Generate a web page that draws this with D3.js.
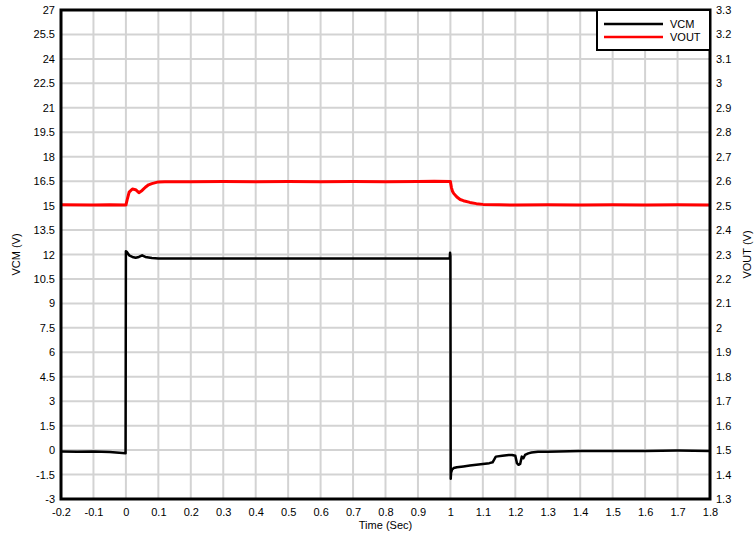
<!DOCTYPE html>
<html>
<head>
<meta charset="utf-8">
<script src="https://cdn.jsdelivr.net/npm/d3@7"></script>
<style>
html,body{margin:0;padding:0;background:#fff;}
svg{display:block;}
text{font-family:"Liberation Sans",Arial,sans-serif;fill:#000;}
</style>
</head>
<body>
<svg id="chart" width="754" height="537"></svg>
<script>
// ---- data ----
const xTicks = [-0.2,-0.1,0,0.1,0.2,0.3,0.4,0.5,0.6,0.7,0.8,0.9,1,1.1,1.2,1.3,1.4,1.5,1.6,1.7,1.8];
const leftTicks = [-3,-1.5,0,1.5,3,4.5,6,7.5,9,10.5,12,13.5,15,16.5,18,19.5,21,22.5,24,25.5,27];
const rightTicks = [1.3,1.4,1.5,1.6,1.7,1.8,1.9,2,2.1,2.2,2.3,2.4,2.5,2.6,2.7,2.8,2.9,3,3.1,3.2,3.3];

const vcmTime = [-0.2,-0.15,-0.1,-0.05,-0.001,0,0.003,0.01,0.02,0.03,0.04,0.05,0.06,0.08,0.1,0.3,0.5,0.7,0.9,0.998,0.999,1.0,1.001,1.002,1.005,1.01,1.02,1.04,1.06,1.08,1.1,1.12,1.13,1.14,1.16,1.18,1.19,1.2,1.205,1.21,1.215,1.22,1.225,1.23,1.24,1.25,1.27,1.3,1.4,1.5,1.6,1.7,1.8];
const vcmValues = [-0.08,-0.1,-0.09,-0.12,-0.2,12.2,12.15,11.95,11.85,11.8,11.85,11.95,11.85,11.78,11.75,11.75,11.75,11.75,11.75,11.75,12.1,11.9,-1.75,-1.4,-1.2,-1.1,-1.05,-1.0,-0.95,-0.9,-0.85,-0.8,-0.75,-0.4,-0.35,-0.3,-0.3,-0.35,-0.8,-0.9,-0.85,-0.4,-0.5,-0.3,-0.2,-0.15,-0.1,-0.1,-0.05,-0.05,-0.05,-0.03,-0.05];

const voutTime = [-0.2,-0.1,-0.05,0,0.005,0.01,0.02,0.03,0.04,0.05,0.06,0.07,0.08,0.1,0.12,0.2,0.3,0.4,0.5,0.6,0.7,0.8,0.9,0.95,1.0,1.003,1.006,1.01,1.02,1.03,1.04,1.06,1.08,1.1,1.15,1.2,1.3,1.4,1.5,1.6,1.7,1.8];
const voutValues = [2.503,2.502,2.503,2.502,2.53,2.555,2.568,2.565,2.553,2.562,2.575,2.585,2.59,2.597,2.598,2.598,2.599,2.598,2.599,2.598,2.599,2.598,2.599,2.6,2.599,2.575,2.56,2.55,2.535,2.525,2.52,2.513,2.508,2.505,2.503,2.502,2.503,2.502,2.503,2.502,2.503,2.502];

const seriesNames = ["VCM","VOUT"];
const seriesColors = ["#000000","#ff0000"];

// ---- layout ----
const svg = d3.select("#chart");
const L = 61, R = 710, T = 10, B = 499;

const x = d3.scaleLinear().domain([-0.2,1.8]).range([L,R]);
const yL = d3.scaleLinear().domain([-3,27]).range([B,T]);
const yR = d3.scaleLinear().domain([1.3,3.3]).range([B,T]);

// grid
const grid = svg.append("g");
grid.selectAll(".gx").data(xTicks.slice(1,-1)).enter().append("line")
  .attr("x1",d=>x(d)).attr("x2",d=>x(d)).attr("y1",T).attr("y2",B)
  .attr("stroke","#d3d3d3").attr("stroke-width",2);
grid.selectAll(".gy").data(leftTicks.slice(1,-1)).enter().append("line")
  .attr("y1",d=>yL(d)).attr("y2",d=>yL(d)).attr("x1",L).attr("x2",R)
  .attr("stroke","#d3d3d3").attr("stroke-width",2);

// axes (labels only)
const fmt = d=>String(d);
const ax = svg.append("g").attr("transform",`translate(0,${B})`)
  .call(d3.axisBottom(x).tickValues(xTicks).tickFormat(fmt).tickSize(0).tickPadding(9));
const axL = svg.append("g").attr("transform",`translate(${L},0)`)
  .call(d3.axisLeft(yL).tickValues(leftTicks).tickFormat(fmt).tickSize(0).tickPadding(6));
const axR = svg.append("g").attr("transform",`translate(${R},0)`)
  .call(d3.axisRight(yR).tickValues(rightTicks).tickFormat(fmt).tickSize(0).tickPadding(6));
[ax,axL,axR].forEach(g=>{
  g.select(".domain").remove();
  g.selectAll("text").style("font-size","11px").style("font-family","'Liberation Sans',Arial,sans-serif").attr("fill","#000");
});

// lines
const clip = svg.append("clipPath").attr("id","clip").append("rect")
  .attr("x",L).attr("y",T).attr("width",R-L).attr("height",B-T);
const lineL = d3.line().x(d=>x(d[0])).y(d=>yL(d[1]));
const lineR = d3.line().x(d=>x(d[0])).y(d=>yR(d[1]));
const plot = svg.append("g").attr("clip-path","url(#clip)");
plot.append("path").datum(voutTime.map((t,i)=>[t,voutValues[i]]))
  .attr("d",lineR).attr("fill","none").attr("stroke",seriesColors[1]).attr("stroke-width",3).attr("stroke-linejoin","round");
plot.append("path").datum(vcmTime.map((t,i)=>[t,vcmValues[i]]))
  .attr("d",lineL).attr("fill","none").attr("stroke",seriesColors[0]).attr("stroke-width",2.5).attr("stroke-linejoin","round");

// frame
svg.append("rect").attr("x",L).attr("y",T).attr("width",R-L).attr("height",B-T)
  .attr("fill","none").attr("stroke","#000").attr("stroke-width",3);

// legend
const lg = svg.append("g");
lg.append("rect").attr("x",597).attr("y",T).attr("width",R-597).attr("height",40)
  .attr("fill","#fff").attr("stroke","#000").attr("stroke-width",2);
seriesNames.forEach((n,i)=>{
  const yy = 24 + i*13;
  lg.append("line").attr("x1",604).attr("x2",663).attr("y1",yy).attr("y2",yy)
    .attr("stroke",seriesColors[i]).attr("stroke-width",2.5);
  lg.append("text").attr("x",670).attr("y",yy+4).text(n).style("font-size","11px");
});

// titles
svg.append("text").attr("x",(L+R)/2).attr("y",529).attr("text-anchor","middle")
  .style("font-size","11px").text("Time (Sec)");
svg.append("text").attr("transform",`translate(20,${(T+B)/2}) rotate(-90)`).attr("text-anchor","middle")
  .style("font-size","11px").text("VCM (V)");
svg.append("text").attr("transform",`translate(751,${(T+B)/2}) rotate(-90)`).attr("text-anchor","middle")
  .style("font-size","11px").text("VOUT (V)");
</script>
</body>
</html>
